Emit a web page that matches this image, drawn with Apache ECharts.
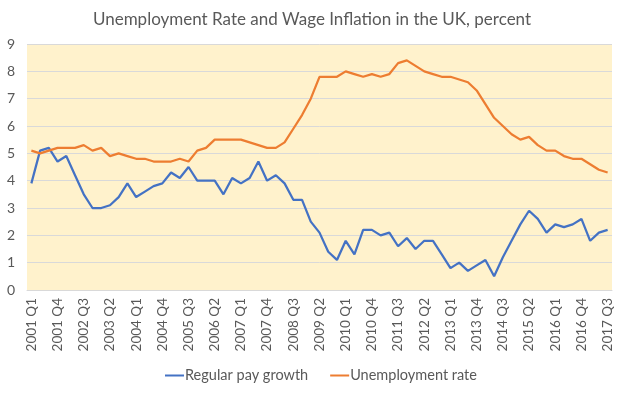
<!DOCTYPE html>
<html>
<head>
<meta charset="utf-8">
<script src="https://cdn.jsdelivr.net/npm/echarts@6/dist/echarts.min.js"></script>
<style>html,body{margin:0;padding:0;background:#fff}#c{width:624px;height:393px}</style>
</head>
<body>
<div id="c"></div>
<script>
var categories = [
  '2001 Q1','2001 Q2','2001 Q3','2001 Q4','2002 Q1','2002 Q2','2002 Q3','2002 Q4',
  '2003 Q1','2003 Q2','2003 Q3','2003 Q4','2004 Q1','2004 Q2','2004 Q3','2004 Q4',
  '2005 Q1','2005 Q2','2005 Q3','2005 Q4','2006 Q1','2006 Q2','2006 Q3','2006 Q4',
  '2007 Q1','2007 Q2','2007 Q3','2007 Q4','2008 Q1','2008 Q2','2008 Q3','2008 Q4',
  '2009 Q1','2009 Q2','2009 Q3','2009 Q4','2010 Q1','2010 Q2','2010 Q3','2010 Q4',
  '2011 Q1','2011 Q2','2011 Q3','2011 Q4','2012 Q1','2012 Q2','2012 Q3','2012 Q4',
  '2013 Q1','2013 Q2','2013 Q3','2013 Q4','2014 Q1','2014 Q2','2014 Q3','2014 Q4',
  '2015 Q1','2015 Q2','2015 Q3','2015 Q4','2016 Q1','2016 Q2','2016 Q3','2016 Q4',
  '2017 Q1','2017 Q2','2017 Q3'];
var payGrowth = [3.9,5.1,5.2,4.7,4.9,4.2,3.5,3.0,3.0,3.1,3.4,3.9,3.4,3.6,3.8,3.9,4.3,4.1,4.5,4.0,
  4.0,4.0,3.5,4.1,3.9,4.1,4.7,4.0,4.2,3.9,3.3,3.3,2.5,2.1,1.4,1.1,1.8,1.3,2.2,2.2,
  2.0,2.1,1.6,1.9,1.5,1.8,1.8,1.3,0.8,1.0,0.7,0.9,1.1,0.5,1.2,1.8,2.4,2.9,2.6,2.1,
  2.4,2.3,2.4,2.6,1.8,2.1,2.2];
var unemployment = [5.1,5.0,5.1,5.2,5.2,5.2,5.3,5.1,5.2,4.9,5.0,4.9,4.8,4.8,4.7,4.7,4.7,4.8,4.7,5.1,
  5.2,5.5,5.5,5.5,5.5,5.4,5.3,5.2,5.2,5.4,5.9,6.4,7.0,7.8,7.8,7.8,8.0,7.9,7.8,7.9,
  7.8,7.9,8.3,8.4,8.2,8.0,7.9,7.8,7.8,7.7,7.6,7.3,6.8,6.3,6.0,5.7,5.5,5.6,5.3,5.1,
  5.1,4.9,4.8,4.8,4.6,4.4,4.3];
var seriesNames = ['Regular pay growth', 'Unemployment rate'];
var yTicks = [0, 9, 1];

var chart = echarts.init(document.getElementById('c'), null, {renderer: 'canvas'});
var font = 'Lato, "Open Sans", sans-serif';
chart.setOption({
  animation: false,
  title: {
    text: 'Unemployment Rate and Wage Inflation in the UK, percent',
    left: 'center', top: 6,
    textStyle: {fontFamily: font, fontSize: 17, fontWeight: 'normal', color: '#595959'}
  },
  legend: {
    data: seriesNames,
    top: 363, left: 160,
    icon: 'rect', itemWidth: 19, itemHeight: 2, itemGap: 22,
    textStyle: {fontFamily: font, fontSize: 14.5, color: '#595959', padding: [0, 0, 0, -4]}
  },
  grid: {
    left: 27, right: 12, top: 44, bottom: 103,
    show: true, backgroundColor: '#FFF2CC', borderWidth: 0
  },
  xAxis: {
    type: 'category', data: categories, boundaryGap: true,
    axisLine: {show: true, lineStyle: {color: '#D9D9D9', width: 1}},
    axisTick: {show: false},
    axisLabel: {interval: 2, rotate: 90, fontFamily: font, fontSize: 13.5, color: '#595959', margin: 8}
  },
  yAxis: {
    type: 'value', min: yTicks[0], max: yTicks[1], interval: yTicks[2],
    axisLine: {show: false}, axisTick: {show: false},
    splitLine: {lineStyle: {color: '#D9D9D9', width: 1}},
    axisLabel: {fontFamily: font, fontSize: 14, color: '#595959', margin: 12}
  },
  series: [
    {name: seriesNames[0], type: 'line', data: payGrowth, symbol: 'none',
     lineStyle: {color: '#4472C4', width: 2.25}, itemStyle: {color: '#4472C4'}},
    {name: seriesNames[1], type: 'line', data: unemployment, symbol: 'none',
     lineStyle: {color: '#ED7D31', width: 2.25}, itemStyle: {color: '#ED7D31'}}
  ]
});
</script>
</body>
</html>
